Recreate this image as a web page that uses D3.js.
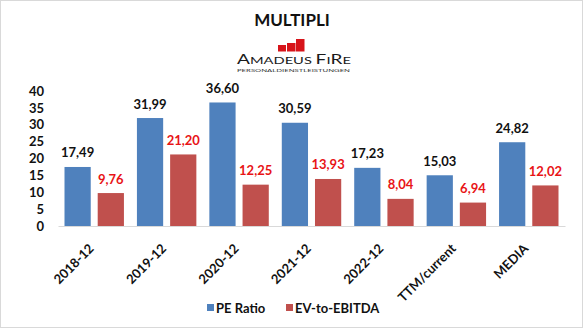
<!DOCTYPE html>
<html>
<head>
<meta charset="utf-8">
<script src="https://cdn.jsdelivr.net/npm/d3@7/dist/d3.min.js"></script>
<style>
  html, body { margin: 0; padding: 0; background: #fff; }
  svg { display: block; }
  text { font-family: Lato, "Open Sans", sans-serif; }
</style>
</head>
<body>
<script>
// Valuation multiples for Amadeus Fire
const categories = ["2018-12", "2019-12", "2020-12", "2021-12", "2022-12", "TTM/current", "MEDIA"];
const peRatio   = [17.49, 31.99, 36.60, 30.59, 17.23, 15.03, 24.82];
const evEbitda  = [9.76, 21.20, 12.25, 13.93, 8.04, 6.94, 12.02];
const seriesNames = ["PE Ratio", "EV-to-EBITDA"];
const yTicks = [0, 5, 10, 15, 20, 25, 30, 35, 40];

const W = 584, H = 329;
const colors = { "PE Ratio": "#4f81bd", "EV-to-EBITDA": "#c0504d" };
const labelColors = { "PE Ratio": "#111111", "EV-to-EBITDA": "#e81416" };

const svg = d3.select("body").append("svg").attr("width", W).attr("height", H);

// chart frame
svg.append("rect").attr("x", 0.5).attr("y", 0.5).attr("width", W - 2).attr("height", H - 2)
  .attr("fill", "#fff").attr("stroke", "#d9d9d9");

// title
svg.append("text").attr("x", 292).attr("y", 26).attr("text-anchor", "middle")
  .attr("font-size", 17).attr("font-weight", "bold").attr("fill", "#111").text("MULTIPLI");

// company logo: three rising red blocks and the wordmark
const logo = svg.append("g");
[[278, 45, 8], [287, 43, 8.5], [296, 39, 8.5]].forEach(([x, y, w]) => {
  logo.append("rect").attr("x", x).attr("y", y).attr("width", w).attr("height", 51.5 - y).attr("fill", "#d7141a");
});
const word = logo.append("text").attr("x", 237).attr("y", 64)
  .attr("font-family", "'Liberation Serif', 'DejaVu Serif', serif").attr("fill", "#1a1a1a")
  .attr("textLength", 114).attr("lengthAdjust", "spacingAndGlyphs");
[["A", 13], ["MADEUS ", 10], ["F", 13], ["I", 10], ["R", 13], ["E", 10]].forEach(([t, s]) => {
  word.append("tspan").attr("font-size", s).text(t);
});
logo.append("text").attr("x", 237).attr("y", 72)
  .attr("font-family", "'Liberation Serif', serif").attr("font-size", 4.6).attr("fill", "#333")
  .attr("textLength", 113).attr("lengthAdjust", "spacingAndGlyphs")
  .text("PERSONALDIENSTLEISTUNGEN");

// scales
const x0 = d3.scaleBand().domain(categories).range([58, 565]).padding(0);
const x1 = d3.scaleBand().domain(seriesNames).range([6.5, x0.bandwidth() - 6.5]).paddingInner(0.21);
const y = d3.scaleLinear().domain([0, 40]).range([226, 91]);

// y axis labels
const yAxis = svg.append("g").attr("transform", "translate(44,0)")
  .call(d3.axisLeft(y).tickValues(yTicks).tickSize(0).tickPadding(0).tickFormat(d3.format("d")));
yAxis.select(".domain").remove();
yAxis.selectAll("text").attr("font-size", 13).attr("font-weight", "bold").attr("fill", "#111")
  .attr("font-family", "Lato, sans-serif");

// bars and value labels
const fmt = v => d3.format(".2f")(v).replace(".", ",");
const rows = categories.map((c, i) => ({ cat: c, vals: [
  { s: "PE Ratio", v: peRatio[i] }, { s: "EV-to-EBITDA", v: evEbitda[i] } ] }));

const groups = svg.append("g").selectAll("g").data(rows).join("g")
  .attr("transform", d => `translate(${x0(d.cat)},0)`);
groups.selectAll("rect").data(d => d.vals).join("rect")
  .attr("x", d => x1(d.s)).attr("width", x1.bandwidth())
  .attr("y", d => y(d.v)).attr("height", d => y(0) - y(d.v))
  .attr("fill", d => colors[d.s]);
groups.selectAll("text").data(d => d.vals).join("text")
  .attr("x", d => x1(d.s) + x1.bandwidth() / 2).attr("y", d => y(d.v) - 9.5)
  .attr("text-anchor", "middle").attr("font-size", 13).attr("font-weight", "bold")
  .attr("fill", d => labelColors[d.s]).text(d => fmt(d.v));

// x axis baseline and rotated category labels
const xAxis = svg.append("g").attr("transform", `translate(0,${y(0)})`)
  .call(d3.axisBottom(x0).tickSize(0).tickPadding(0));
xAxis.select(".domain").attr("stroke", "#d9d9d9");
xAxis.selectAll("text")
  .attr("font-size", 13).attr("font-weight", "bold").attr("fill", "#111").attr("font-family", "Lato, sans-serif")
  .attr("text-anchor", "end").attr("dy", "0.7em")
  .attr("transform", `translate(-6,17) rotate(-45)`)
  .attr("x", 0).attr("y", 0);

// legend
const legend = svg.append("g");
const legendItems = [{ s: "PE Ratio", x: 207 }, { s: "EV-to-EBITDA", x: 286 }];
legendItems.forEach(it => {
  legend.append("rect").attr("x", it.x).attr("y", 304).attr("width", 7).attr("height", 7).attr("fill", colors[it.s]);
  legend.append("text").attr("x", it.x + 9).attr("y", 312.5).attr("font-size", 13).attr("font-weight", "bold")
    .attr("fill", "#111").text(it.s);
});
</script>
</body>
</html>
